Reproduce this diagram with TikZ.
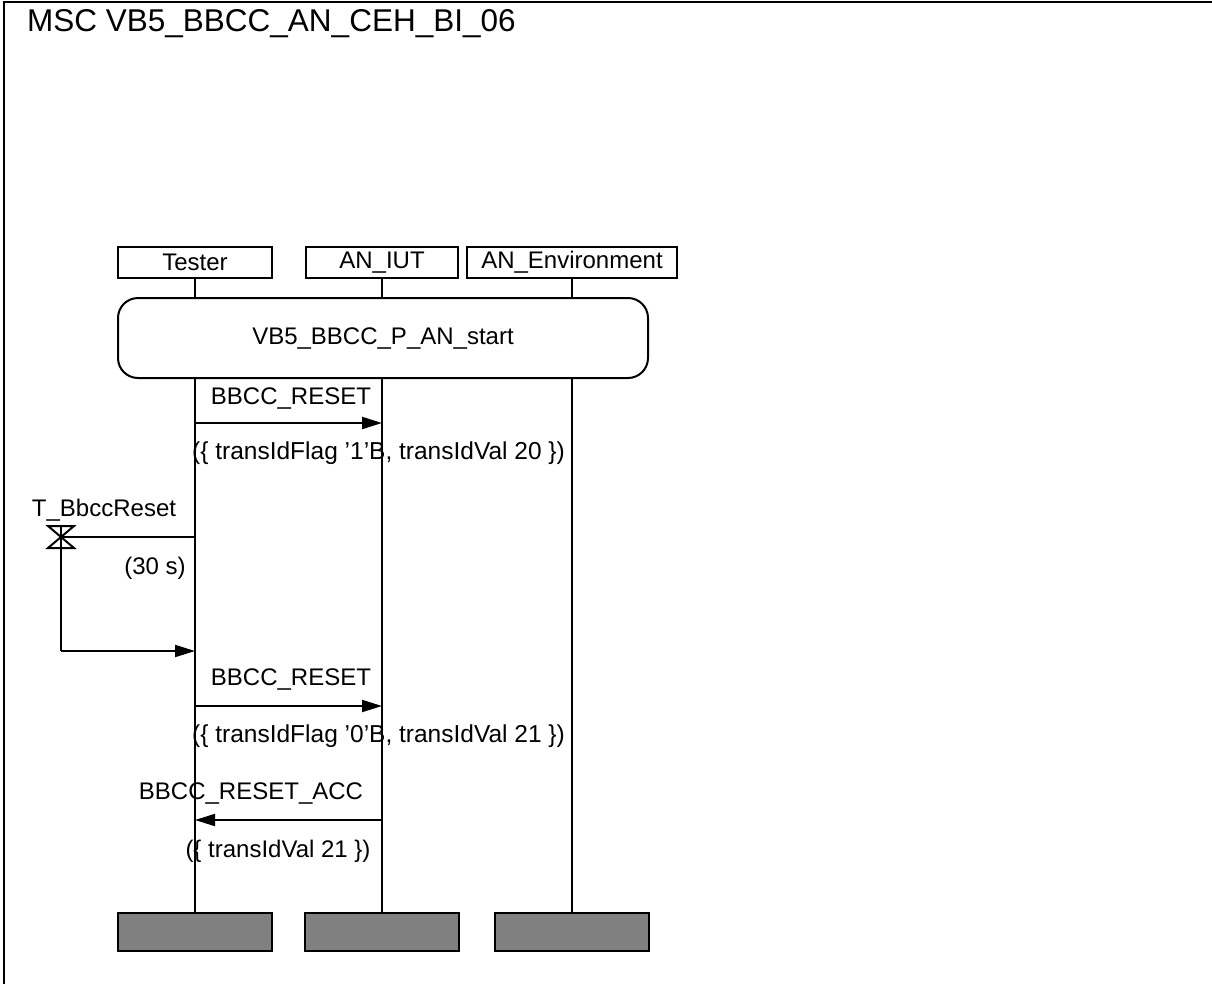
\documentclass[tikz,border=0pt]{standalone}
\usepackage{fontspec}
\setmainfont{Liberation Sans}
\usetikzlibrary{positioning,arrows.meta}
\definecolor{mscgray}{HTML}{808080}
\tikzset{
  lbl/.style    ={font=\fontsize{24}{28}\selectfont, inner sep=0pt},
  parlbl/.style ={font=\fontsize{24.5}{29}\selectfont, inner sep=0pt},
  ihead/.style  ={draw, line width=2pt, minimum height=31pt, inner sep=0pt, lbl},
  iend/.style   ={draw, line width=2pt, fill=mscgray, minimum width=154pt, minimum height=38pt, inner sep=0pt},
  refbox/.style ={draw, line width=2pt, rounded corners=20pt, minimum width=530pt,
                  minimum height=80pt, lbl, fill=white},
  life/.style   ={line width=2pt},
  msg/.style    ={line width=2pt, -{Triangle[length=20pt,width=12pt]}},
}

\begin{document}
\begin{tikzpicture}[x=1pt,y=-1pt]
    \useasboundingbox (0,0) rectangle (1212,983);
    % --- frame and title ---
    \draw[line width=2pt] (4,2) rectangle (1220,990);
    \node[lbl,font=\fontsize{31.5}{36}\selectfont,anchor=west] (title) at (27,24) {MSC VB5\_BBCC\_AN\_CEH\_BI\_06};
    % --- instances ---
    \node[ihead,minimum width=154pt] (tester) at (195,262.5) {Tester};
    \node[ihead,minimum width=152pt] (iut)    at (382,262.5) {AN\_IUT};
    \node[ihead,minimum width=210pt] (env)    at (572,262.5) {AN\_Environment};
    \node[iend] (testerEnd) at (195,932) {};
    \node[iend] (iutEnd)    at (382,932) {};
    \node[iend] (envEnd)    at (572,932) {};
    \node[refbox] (ref) at (383,338) {VB5\_BBCC\_P\_AN\_start};
    \foreach \i in {tester,iut,env}{
      \draw[life] (\i.south) -- (ref.north -| \i);
      \draw[life] (ref.south -| \i) -- (\i End.north);
    }
    % --- first reset ---
    \coordinate (m1a) at (195,423); \coordinate (m1b) at (382,423);
    \draw[msg] (m1a) -- (m1b);
    \node[lbl] (m1lbl) at (291,398) {BBCC\_RESET};
    \node[parlbl,anchor=west] (m1par) at (192,453) {(\{ transIdFlag ’1’B, transIdVal 20 \})};
    % --- timer T_BbccReset ---
    \coordinate (tmr) at (61,537); \coordinate (tmrT) at (195,537);
    \coordinate (tmrE) at (61,651); \coordinate (tmrX) at (195,651);
    \draw[life,fill=white,line join=miter] ([shift={(-13,-11)}]tmr) -- ++(26,0) -- ++(-26,22) -- ++(26,0) -- cycle;
    \draw[life] (tmr) -- (tmrT);
    \draw[life] ([yshift=11]tmr) -- (tmrE);
    \draw[msg] (tmrE) -- (tmrX);
    \node[lbl] (tmrlbl) at (104,510) {T\_BbccReset};
    \node[lbl] (tmrdur) at (155,568) {(30 s)};
    % --- second reset ---
    \coordinate (m2a) at (195,706); \coordinate (m2b) at (382,706);
    \draw[msg] (m2a) -- (m2b);
    \node[lbl] (m2lbl) at (291,679) {BBCC\_RESET};
    \node[parlbl,anchor=west] (m2par) at (192,736) {(\{ transIdFlag ’0’B, transIdVal 21 \})};
    % --- acknowledge ---
    \coordinate (m3a) at (382,820); \coordinate (m3b) at (195,820);
    \draw[msg] (m3a) -- (m3b);
    \node[lbl] (m3lbl) at (251,793) {BBCC\_RESET\_ACC};
    \node[lbl] (m3par) at (278,851) {(\{ transIdVal 21 \})};
  \end{tikzpicture}
\end{document}
